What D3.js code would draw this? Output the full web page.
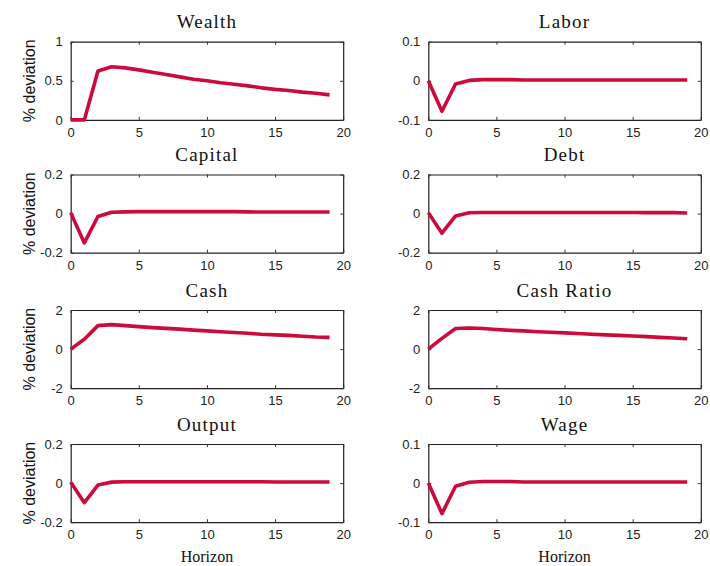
<!DOCTYPE html>
<html>
<head>
<meta charset="utf-8">
<title>Impulse responses</title>
<script src="https://d3js.org/d3.v7.min.js"></script>
<style>
  body { margin: 0; background: white; }
</style>
</head>
<body>
<svg id="irf" width="710" height="566"></svg>
<script>
// horizon 0..19
var horizon = d3.range(0, 20);

// panel titles and y ranges
var titles = ["Wealth", "Labor", "Capital", "Debt", "Cash", "Cash Ratio", "Output", "Wage"];
var yLimits = [[0, 1], [-0.1, 0.1], [-0.2, 0.2], [-0.2, 0.2], [-2, 2], [-2, 2], [-0.2, 0.2], [-0.1, 0.1]];
var yTickLabels = [["0", "0.5", "1"], ["-0.1", "0", "0.1"], ["-0.2", "0", "0.2"], ["-0.2", "0", "0.2"],
                   ["-2", "0", "2"], ["-2", "0", "2"], ["-0.2", "0", "0.2"], ["-0.1", "0", "0.1"]];
var xTicks = [0, 5, 10, 15, 20];

// responses, % deviation
var wealth = [0, 0, 0.625, 0.68, 0.665, 0.64, 0.61, 0.58, 0.55, 0.52, 0.5, 0.475, 0.455, 0.435, 0.41, 0.39, 0.375, 0.355, 0.34, 0.32];
var labor = [0, -0.078, -0.008, 0.001, 0.003, 0.003, 0.003, 0.002, 0.002, 0.002, 0.002, 0.002, 0.002, 0.002, 0.002, 0.002, 0.002, 0.002, 0.002, 0.002];
var capital = [0.005, -0.15, -0.015, 0.007, 0.009, 0.01, 0.01, 0.01, 0.01, 0.01, 0.01, 0.01, 0.01, 0.009, 0.008, 0.008, 0.008, 0.008, 0.008, 0.008];
var debt = [0.005, -0.1, -0.012, 0.004, 0.006, 0.006, 0.006, 0.006, 0.006, 0.006, 0.006, 0.006, 0.006, 0.006, 0.006, 0.006, 0.005, 0.005, 0.005, 0.003];
var cash = [0, 0.5, 1.2, 1.25, 1.2, 1.15, 1.1, 1.06, 1.02, 0.97, 0.93, 0.89, 0.85, 0.81, 0.76, 0.73, 0.7, 0.66, 0.62, 0.6];
var cashRatio = [0, 0.55, 1.05, 1.08, 1.05, 1.0, 0.96, 0.93, 0.89, 0.86, 0.83, 0.8, 0.76, 0.73, 0.7, 0.67, 0.64, 0.6, 0.57, 0.53];
var output = [0.005, -0.1, -0.01, 0.005, 0.007, 0.007, 0.007, 0.007, 0.007, 0.007, 0.007, 0.007, 0.007, 0.007, 0.007, 0.006, 0.006, 0.006, 0.006, 0.006];
var wage = [0, -0.078, -0.008, 0.002, 0.004, 0.004, 0.004, 0.003, 0.003, 0.003, 0.003, 0.003, 0.003, 0.003, 0.003, 0.003, 0.003, 0.003, 0.003, 0.003];

var series = [wealth, labor, capital, debt, cash, cashRatio, output, wage];

// panel grid
var colLeft = [70.7, 428.3],
    plotW = 272.5,
    rowTop = [41.7, 174.5, 310, 444],
    plotH = 78.2;

var lineColor = "#cc0a3c";
var svg = d3.select("#irf");

titles.forEach(function(title, i) {
  var col = i % 2, row = Math.floor(i / 2);
  var g = svg.append("g")
    .attr("transform", "translate(" + colLeft[col] + "," + rowTop[row] + ")");

  var x = d3.scaleLinear().domain([0, 20]).range([0, plotW]);
  var y = d3.scaleLinear().domain(yLimits[i]).range([plotH, 0]);
  var yTicks = [yLimits[i][0], (yLimits[i][0] + yLimits[i][1]) / 2, yLimits[i][1]];
  var yFmt = function(d, k) { return yTickLabels[i][k]; };

  // inward ticks on all four sides (matlab style)
  var bottom = d3.axisBottom(x).tickValues(xTicks).tickSizeInner(-3).tickSizeOuter(0).tickPadding(8);
  var top = d3.axisTop(x).tickValues(xTicks).tickSizeInner(-3).tickSizeOuter(0).tickFormat("");
  var left = d3.axisLeft(y).tickValues(yTicks).tickSizeInner(-3).tickSizeOuter(0).tickPadding(8).tickFormat(yFmt);
  var right = d3.axisRight(y).tickValues(yTicks).tickSizeInner(-3).tickSizeOuter(0).tickFormat("");

  g.append("g").attr("transform", "translate(0," + plotH + ")").call(bottom);
  g.append("g").call(top);
  g.append("g").call(left);
  g.append("g").attr("transform", "translate(" + plotW + ",0)").call(right);

  g.selectAll(".domain").attr("stroke", "#222").attr("stroke-width", 1.2);
  g.selectAll(".tick line").attr("stroke", "#333");
  g.selectAll(".tick text")
    .attr("fill", "#222")
    .style("font-family", "'Liberation Sans', Arial, sans-serif")
    .style("font-size", "13px");

  g.append("path")
    .datum(series[i])
    .attr("fill", "none")
    .attr("stroke", lineColor)
    .attr("stroke-width", 3.6)
    .attr("stroke-linejoin", "round")
    .attr("d", d3.line()
      .x(function(d, k) { return x(horizon[k]); })
      .y(function(d) { return y(d); }));

  // title
  g.append("text")
    .attr("x", plotW / 2)
    .attr("y", -13.5)
    .attr("text-anchor", "middle")
    .style("font-family", "'Liberation Serif', 'Times New Roman', serif")
    .style("font-size", "19px")
    .style("letter-spacing", "1.2px")
    .attr("fill", "#111")
    .text(title);

  if (col == 0) {
    g.append("text")
      .attr("transform", "translate(" + (35 - colLeft[0]) + "," + (plotH / 2) + ")rotate(-90)")
      .attr("text-anchor", "middle")
      .style("font-family", "'Liberation Sans', Arial, sans-serif")
      .style("font-size", "16px")
      .attr("fill", "#111")
      .text("% deviation");
  }

  if (row == 3) {
    g.append("text")
      .attr("x", plotW / 2)
      .attr("y", 562 - rowTop[3])
      .attr("text-anchor", "middle")
      .style("font-family", "'Liberation Serif', 'Times New Roman', serif")
      .style("font-size", "16px")
      .attr("fill", "#111")
      .text("Horizon");
  }
});
</script>
</body>
</html>
